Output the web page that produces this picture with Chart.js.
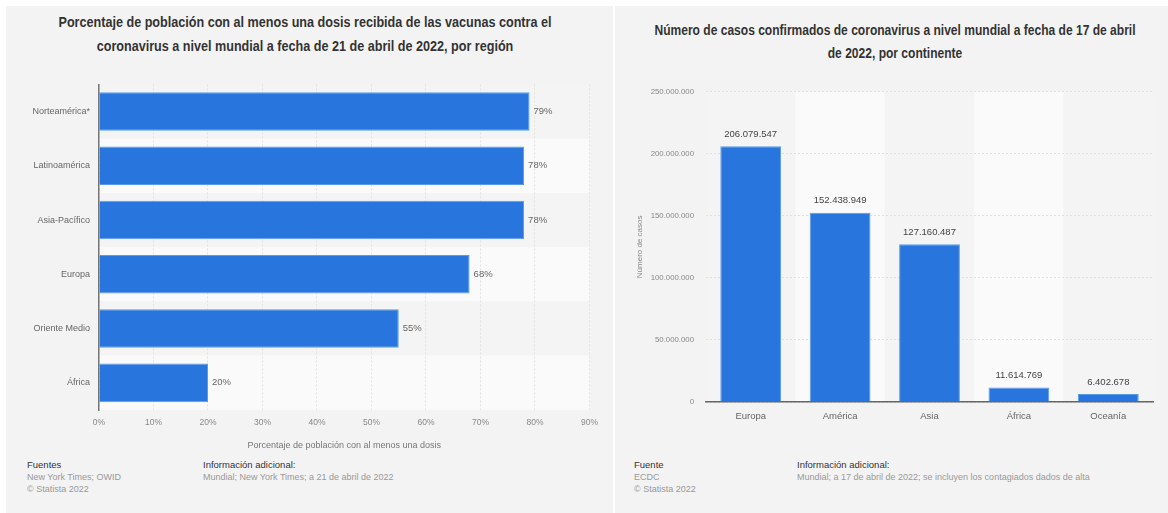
<!DOCTYPE html>
<html>
<head>
<meta charset="utf-8">
<script src="https://cdn.jsdelivr.net/npm/chart.js@4.4.1/dist/chart.umd.min.js"></script>
<style>
  body { margin: 0; background: #fff; width: 1168px; height: 513px; position: relative; overflow: hidden;
         font-family: "Liberation Sans", Arial, sans-serif; }
  .panel { position: absolute; top: 6px; height: 507px; background: #f3f3f3; }
  .title { position: absolute; text-align: center; font-weight: bold; font-size: 14px; color: #333; }
  .title span { display: block; white-space: nowrap; }
  .box { position: absolute; }
  .foot { position: absolute; font-size: 9px; line-height: 12px; color: #999; }
  .foot b { font-weight: normal; color: #333; font-size: 9.5px; }
</style>
</head>
<body>
<div class="panel" style="left:6px;width:607px"></div>
<div class="panel" style="left:615px;width:553px"></div>

<div class="title" style="left:6px;width:598px;top:10px;line-height:24px">
  <span style="transform:scaleX(0.9)">Porcentaje de población con al menos una dosis recibida de las vacunas contra el</span>
  <span style="transform:scaleX(0.9)">coronavirus a nivel mundial a fecha de 21 de abril de 2022, por región</span>
</div>
<div class="title" style="left:615px;width:560px;top:19px;line-height:23px">
  <span style="transform:scaleX(0.86)">Número de casos confirmados de coronavirus a nivel mundial a fecha de 17 de abril</span>
  <span style="transform:scaleX(0.86)">de 2022, por continente</span>
</div>

<div class="box" style="left:6px;top:70px;width:600px;height:385px"><canvas id="chartDosis" width="600" height="385"></canvas></div>
<div class="box" style="left:615px;top:75px;width:553px;height:355px"><canvas id="chartCasos" width="553" height="355"></canvas></div>

<div class="foot" style="left:27px;top:459px"><b>Fuentes</b><br>New York Times; OWID<br>© Statista 2022</div>
<div class="foot" style="left:203px;top:459px"><b>Información adicional:</b><br>Mundial; New York Times; a 21 de abril de 2022</div>
<div class="foot" style="left:634px;top:459px"><b>Fuente</b><br>ECDC<br>© Statista 2022</div>
<div class="foot" style="left:797px;top:459px"><b>Información adicional:</b><br>Mundial; a 17 de abril de 2022; se incluyen los contagiados dados de alta</div>

<script>
"use strict";

// Chart 1 data
const regions = ["Norteamérica*", "Latinoamérica", "Asia-Pacífico", "Europa", "Oriente Medio", "África"];
const dosePct = [79, 78, 78, 68, 55, 20];
const pctTicks = [0, 10, 20, 30, 40, 50, 60, 70, 80, 90];

// Chart 2 data
const continents = ["Europa", "América", "Asia", "África", "Oceanía"];
const cases = [206079547, 152438949, 127160487, 11614769, 6402678];
const caseTicks = [0, 50000000, 100000000, 150000000, 200000000, 250000000];

const FONT = "'Liberation Sans', Arial, sans-serif";
const BLUE = "#2876dd";

function dotFormatted(x) {
  return x.toString().replace(/\B(?=(\d{3})+(?!\d))/g, ".");
}

// alternating stripes behind the categories
const stripes = {
  id: "stripes",
  beforeDraw(chart, args, opts) {
    const ctx = chart.ctx;
    const area = chart.chartArea;
    const cat = chart.scales[opts.axis];
    const n = cat.getLabels().length;
    const half = Math.abs(cat.getPixelForValue(1) - cat.getPixelForValue(0)) / 2;
    ctx.save();
    for (let i = 0; i < n; i++) {
      const c = cat.getPixelForValue(i);
      ctx.fillStyle = i % 2 === 0 ? "#f4f4f4" : "#fafafa";
      if (opts.axis === "y") ctx.fillRect(area.left, c - half, area.right - area.left, half * 2);
      else ctx.fillRect(c - half, area.top, half * 2, area.bottom - area.top);
    }
    ctx.restore();
  }
};

// value labels next to / above bars
const valueLabels = {
  id: "valueLabels",
  afterDatasetsDraw(chart, args, opts) {
    const ctx = chart.ctx;
    const meta = chart.getDatasetMeta(0);
    const values = chart.data.datasets[0].data;
    ctx.save();
    ctx.font = "9.5px " + FONT;
    ctx.fillStyle = opts.color;
    ctx.textBaseline = "middle";
    meta.data.forEach((bar, i) => {
      if (opts.horizontal) {
        ctx.textAlign = "left";
        ctx.fillText(values[i] + "%", bar.x + 4, bar.y);
      } else {
        ctx.textAlign = "center";
        ctx.fillText(dotFormatted(values[i]), bar.x, bar.y - 12);
      }
    });
    ctx.restore();
  }
};

const tickFont = { family: FONT, size: 9 };

new Chart(document.getElementById("chartDosis"), {
  type: "bar",
  data: {
    labels: regions,
    datasets: [{
      data: dosePct,
      backgroundColor: BLUE,
      borderColor: "#5a9be8",
      borderWidth: 1,
      borderSkipped: "left",
      categoryPercentage: 1,
      barPercentage: 0.71
    }]
  },
  options: {
    indexAxis: "y",
    responsive: false,
    animation: false,
    layout: { padding: { top: 10, right: 16 } },
    plugins: {
      legend: { display: false },
      tooltip: { enabled: false },
      stripes: { axis: "y" },
      valueLabels: { horizontal: true, color: "#666" }
    },
    scales: {
      x: {
        min: 0,
        max: 90,
        afterBuildTicks: (scale) => { scale.ticks = pctTicks.map(v => ({ value: v })); },
        afterFit: (scale) => { scale.height = 45; },
        ticks: { font: { family: FONT, size: 8.5 }, color: "#888", padding: 8, maxRotation: 0, callback: (v) => v + "%" },
        grid: { color: "#e2e2e2", drawTicks: false },
        border: { display: false, dash: [2, 2] },
        title: { display: true, text: "Porcentaje de población con al menos una dosis", font: tickFont, color: "#777", padding: { top: 5 } }
      },
      y: {
        afterFit: (scale) => { scale.width = 93; },
        ticks: { font: tickFont, color: "#666", padding: 9 },
        grid: { display: false, drawTicks: false },
        border: { display: true, color: "#777", width: 1.5 }
      }
    }
  },
  plugins: [stripes, valueLabels]
});

new Chart(document.getElementById("chartCasos"), {
  type: "bar",
  data: {
    labels: continents,
    datasets: [{
      data: cases,
      backgroundColor: BLUE,
      borderColor: "#5a9be8",
      borderWidth: 1,
      borderSkipped: "bottom",
      categoryPercentage: 1,
      barPercentage: 0.68
    }]
  },
  options: {
    responsive: false,
    animation: false,
    layout: { padding: { top: 14, right: 15 } },
    plugins: {
      legend: { display: false },
      tooltip: { enabled: false },
      stripes: { axis: "x" },
      valueLabels: { horizontal: false, color: "#444" }
    },
    scales: {
      x: {
        afterFit: (scale) => { scale.height = 28; },
        ticks: { font: { family: FONT, size: 9.5 }, color: "#666", padding: 9 },
        grid: { display: false, drawTicks: false },
        border: { display: true, color: "#666", width: 1.5 }
      },
      y: {
        min: 0,
        max: 250000000,
        afterBuildTicks: (scale) => { scale.ticks = caseTicks.map(v => ({ value: v })); },
        afterFit: (scale) => { scale.width = 91; },
        ticks: { font: { family: FONT, size: 7.8 }, color: "#888", padding: 12, callback: (v) => dotFormatted(v) },
        grid: { color: "#e0e0e0", drawTicks: false },
        border: { display: false, dash: [2, 2] },
        title: { display: true, text: "Número de casos", font: { family: FONT, size: 8 }, color: "#888", padding: { top: 20, bottom: 0 } }
      }
    }
  },
  plugins: [stripes, valueLabels]
});
</script>
</body>
</html>
